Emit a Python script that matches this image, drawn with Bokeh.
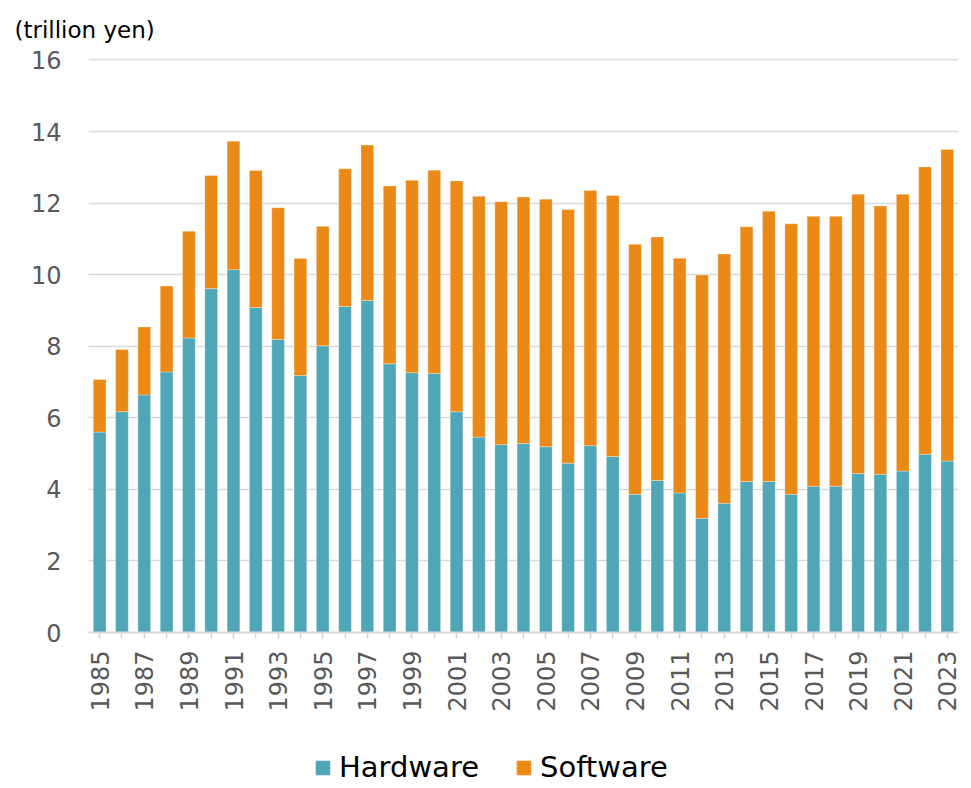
import numpy as np
from bokeh.plotting import figure
from bokeh.layouts import column
from bokeh.models import ColumnDataSource, FixedTicker, Legend, LegendItem, Range1d
from bokeh.embed import file_html
from bokeh.resources import INLINE

years = list(range(1985, 2024))
total = [7.07, 7.91, 8.54, 9.68, 11.21, 12.77, 13.73, 12.91, 11.87, 10.45,
         11.35, 12.96, 13.62, 12.48, 12.64, 12.92, 12.62, 12.19, 12.04, 12.17,
         12.11, 11.82, 12.35, 12.21, 10.85, 11.05, 10.46, 9.99, 10.58, 11.34,
         11.77, 11.42, 11.63, 11.63, 12.25, 11.92, 12.25, 13.01, 13.50]
hardware = [5.60, 6.17, 6.64, 7.28, 8.23, 9.61, 10.14, 9.08, 8.19, 7.18,
            8.01, 9.11, 9.28, 7.51, 7.26, 7.24, 6.17, 5.46, 5.25, 5.28,
            5.19, 4.73, 5.22, 4.92, 3.86, 4.25, 3.90, 3.19, 3.61, 4.22,
            4.22, 3.86, 4.09, 4.09, 4.44, 4.42, 4.51, 4.98, 4.79]
software = [round(t - h, 2) for t, h in zip(total, hardware)]
series = ["Hardware", "Software"]
colors = ["#4EA6B7", "#EB8916"]
y_ticks = [0, 2, 4, 6, 8, 10, 12, 14, 16]
label_years = [y for y in years if y % 2 == 1]

src = ColumnDataSource(dict(year=years, Hardware=hardware, Software=software))

FONT = "DejaVu Sans"
p = figure(frame_width=870, frame_height=574, output_backend="svg", toolbar_location=None,
           x_range=Range1d(1984.5, 2023.5), y_range=Range1d(0, 16.04),
           min_border_left=88, min_border_right=13, min_border_top=58,
           min_border_bottom=100)
p.outline_line_color = None

r = p.vbar_stack(series, x="year", width=0.57, source=src, color=colors,
                 line_color="white", line_alpha=0.5, line_width=0.6)

p.title.text = "(trillion yen)"
p.title.align = "left"
p.title.vertical_align = "top"
p.title.offset = -74
p.title.text_font = FONT
p.title.text_font_size = "23px"
p.title.text_font_style = "normal"
p.title.text_color = "#000000"
p.title.standoff = 28

p.xgrid.grid_line_color = None
p.ygrid.grid_line_color = "#d9d9d9"
p.ygrid.grid_line_width = 1.5

p.yaxis.ticker = FixedTicker(ticks=y_ticks)
p.yaxis.axis_line_color = None
p.yaxis.major_tick_line_color = None
p.yaxis.minor_tick_line_color = None
p.yaxis.major_tick_out = 0
p.yaxis.major_label_standoff = 27
p.yaxis.major_label_text_font = FONT
p.yaxis.major_label_text_font_size = "24px"
p.yaxis.major_label_text_color = "#595959"

p.xaxis.ticker = FixedTicker(ticks=label_years, minor_ticks=years)
p.xaxis.axis_line_color = "#d9d9d9"
p.xaxis.axis_line_width = 2
p.xaxis.major_tick_line_color = "#d9d9d9"
p.xaxis.minor_tick_line_color = "#d9d9d9"
p.xaxis.major_tick_line_width = 1.5
p.xaxis.minor_tick_line_width = 1.5
p.xaxis.major_tick_out = 6
p.xaxis.major_tick_in = 0
p.xaxis.minor_tick_out = 6
p.xaxis.minor_tick_in = 0
p.xaxis.major_label_orientation = np.pi / 2
p.xaxis.major_label_standoff = 12
p.xaxis.major_label_text_font = FONT
p.xaxis.major_label_text_font_size = "24px"
p.xaxis.major_label_text_color = "#595959"

# legend strip
lf = figure(width=971, height=56, output_backend="svg", toolbar_location=None,
            x_range=Range1d(0, 1), y_range=Range1d(0, 1),
            min_border_left=0, min_border_right=0,
            min_border_top=0, min_border_bottom=0)
lf.axis.visible = False
lf.grid.visible = False
lf.outline_line_color = None
dummy = [lf.rect(x=[-10], y=[-10], width=[0.1], height=[0.1], color=c) for c in colors]
legend = Legend(items=[LegendItem(label=s, renderers=[rr]) for s, rr in zip(series, dummy)],
                orientation="horizontal", location=(226, 4))
legend.label_text_font = FONT
legend.label_text_font_size = "29px"
legend.label_text_color = "#000000"
legend.glyph_width = 17
legend.glyph_height = 17
legend.label_standoff = 8
legend.spacing = 36
legend.border_line_color = None
legend.background_fill_alpha = 0
legend.padding = 0
legend.margin = 0
lf.add_layout(legend, "center")

layout = column(p, lf, spacing=0)
open("out.html", "w").write(file_html(layout, INLINE))
